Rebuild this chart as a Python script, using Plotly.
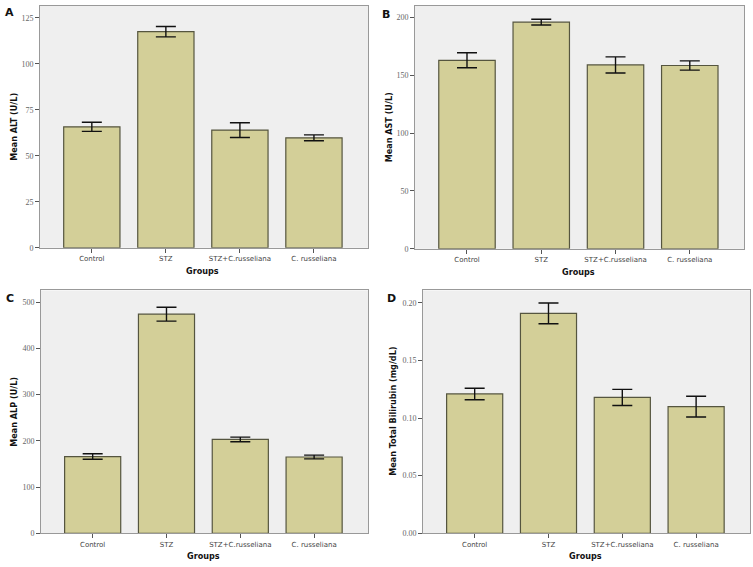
import plotly.graph_objects as go

groups = ["Control", "STZ", "STZ+C.russeliana", "C. russeliana"]

alt_mean = [65.8, 117.5, 64.0, 59.8]
alt_err = [2.5, 2.8, 4.0, 1.6]

ast_mean = [163.0, 196.0, 159.0, 158.5]
ast_err = [6.5, 2.5, 7.0, 4.0]

alp_mean = [166.0, 474.0, 203.0, 165.0]
alp_err = [6.0, 15.0, 5.0, 4.0]

bil_mean = [0.121, 0.191, 0.118, 0.110]
bil_err = [0.005, 0.009, 0.007, 0.009]

y_titles = ["Mean ALT (U/L)", "Mean AST (U/L)", "Mean ALP (U/L)", "Mean Total Bilirubin (mg/dL)"]
y_ticks = [[0, 25, 50, 75, 100, 125], [0, 50, 100, 150, 200], [0, 100, 200, 300, 400, 500],
           [0.0, 0.05, 0.10, 0.15, 0.20]]
y_ticktext = [None, None, None, ["0.00", "0.05", "0.10", "0.15", "0.20"]]
y_max = [131.5, 210.0, 525.5, 0.2109]
letters = ["A", "B", "C", "D"]

W, H = 753, 567
# pixel boxes: (x0, x1, ytop, ybottom)
boxes = [(40, 368, 6, 250), (415, 744, 6, 251), (41, 368, 293, 538), (423, 750, 293, 538)]
ytitle_x = [14, 389, 14, 393]
letter_pos = [(3, 4), (380, 6), (4, 293), (385, 293)]

means = [alt_mean, ast_mean, alp_mean, bil_mean]
errs = [alt_err, ast_err, alp_err, bil_err]

fig = go.Figure()
annotations = []
for i in range(4):
    x0, x1, yt, yb = boxes[i]
    ax = "" if i == 0 else str(i + 1)
    fig.add_trace(go.Bar(
        x=groups, y=means[i],
        error_y=dict(type="data", array=errs[i], color="#111111", thickness=1.4, width=10),
        marker=dict(color="#D3CF98", line=dict(color="#55553f", width=1.2)),
        width=0.76,
        xaxis="x" + ax, yaxis="y" + ax, showlegend=False,
    ))
    fig.update_layout(**{
        "xaxis" + ax: dict(
            domain=[x0 / W, x1 / W], anchor="y" + ax,
            range=[-0.7, 3.73], showgrid=False, zeroline=False,
            ticks="outside", ticklen=4, tickcolor="#555555", tickwidth=1,
            showline=True, linecolor="#999999", linewidth=1, mirror=True,
            tickfont=dict(family="DejaVu Sans", size=7, color="#444444"),
        ),
        "yaxis" + ax: dict(
            domain=[1 - yb / H, 1 - yt / H], anchor="x" + ax,
            range=[0, y_max[i]], showgrid=False, zeroline=False,
            tickvals=y_ticks[i], ticktext=y_ticktext[i],
            ticks="outside", ticklen=4, tickcolor="#555555", tickwidth=1,
            showline=True, linecolor="#999999", linewidth=1, mirror=True,
            tickfont=dict(family="Liberation Serif", size=8, color="#666666"),
        ),
    })
    annotations.append(dict(
        text="<b>" + y_titles[i] + "</b>", textangle=-90,
        x=ytitle_x[i] / W, y=1 - ((yt + yb) / 2) / H, xref="paper", yref="paper",
        showarrow=False, xanchor="center", yanchor="middle",
        font=dict(family="DejaVu Sans Condensed", size=9, color="#111111"),
    ))
    annotations.append(dict(
        text="<b>Groups</b>", x=1.5, xref="x" + ax, y=1 - (yb + 23) / H, yref="paper",
        showarrow=False, xanchor="center", yanchor="middle",
        font=dict(family="DejaVu Sans Condensed", size=9, color="#111111"),
    ))
    lx, ly = letter_pos[i]
    annotations.append(dict(
        text="<b>" + letters[i] + "</b>", x=lx / W, y=1 - ly / H, xref="paper", yref="paper",
        showarrow=False, xanchor="left", yanchor="top",
        font=dict(family="DejaVu Sans", size=11, color="#111111"),
    ))

fig.update_layout(
    width=W, height=H, margin=dict(l=0, r=0, t=0, b=0),
    paper_bgcolor="white", plot_bgcolor="#EFEFEF",
    annotations=annotations, bargap=0.2,
)
fig.write_html("out.html", config={"displayModeBar": False},
               post_script="document.body.style.margin='0px';")
